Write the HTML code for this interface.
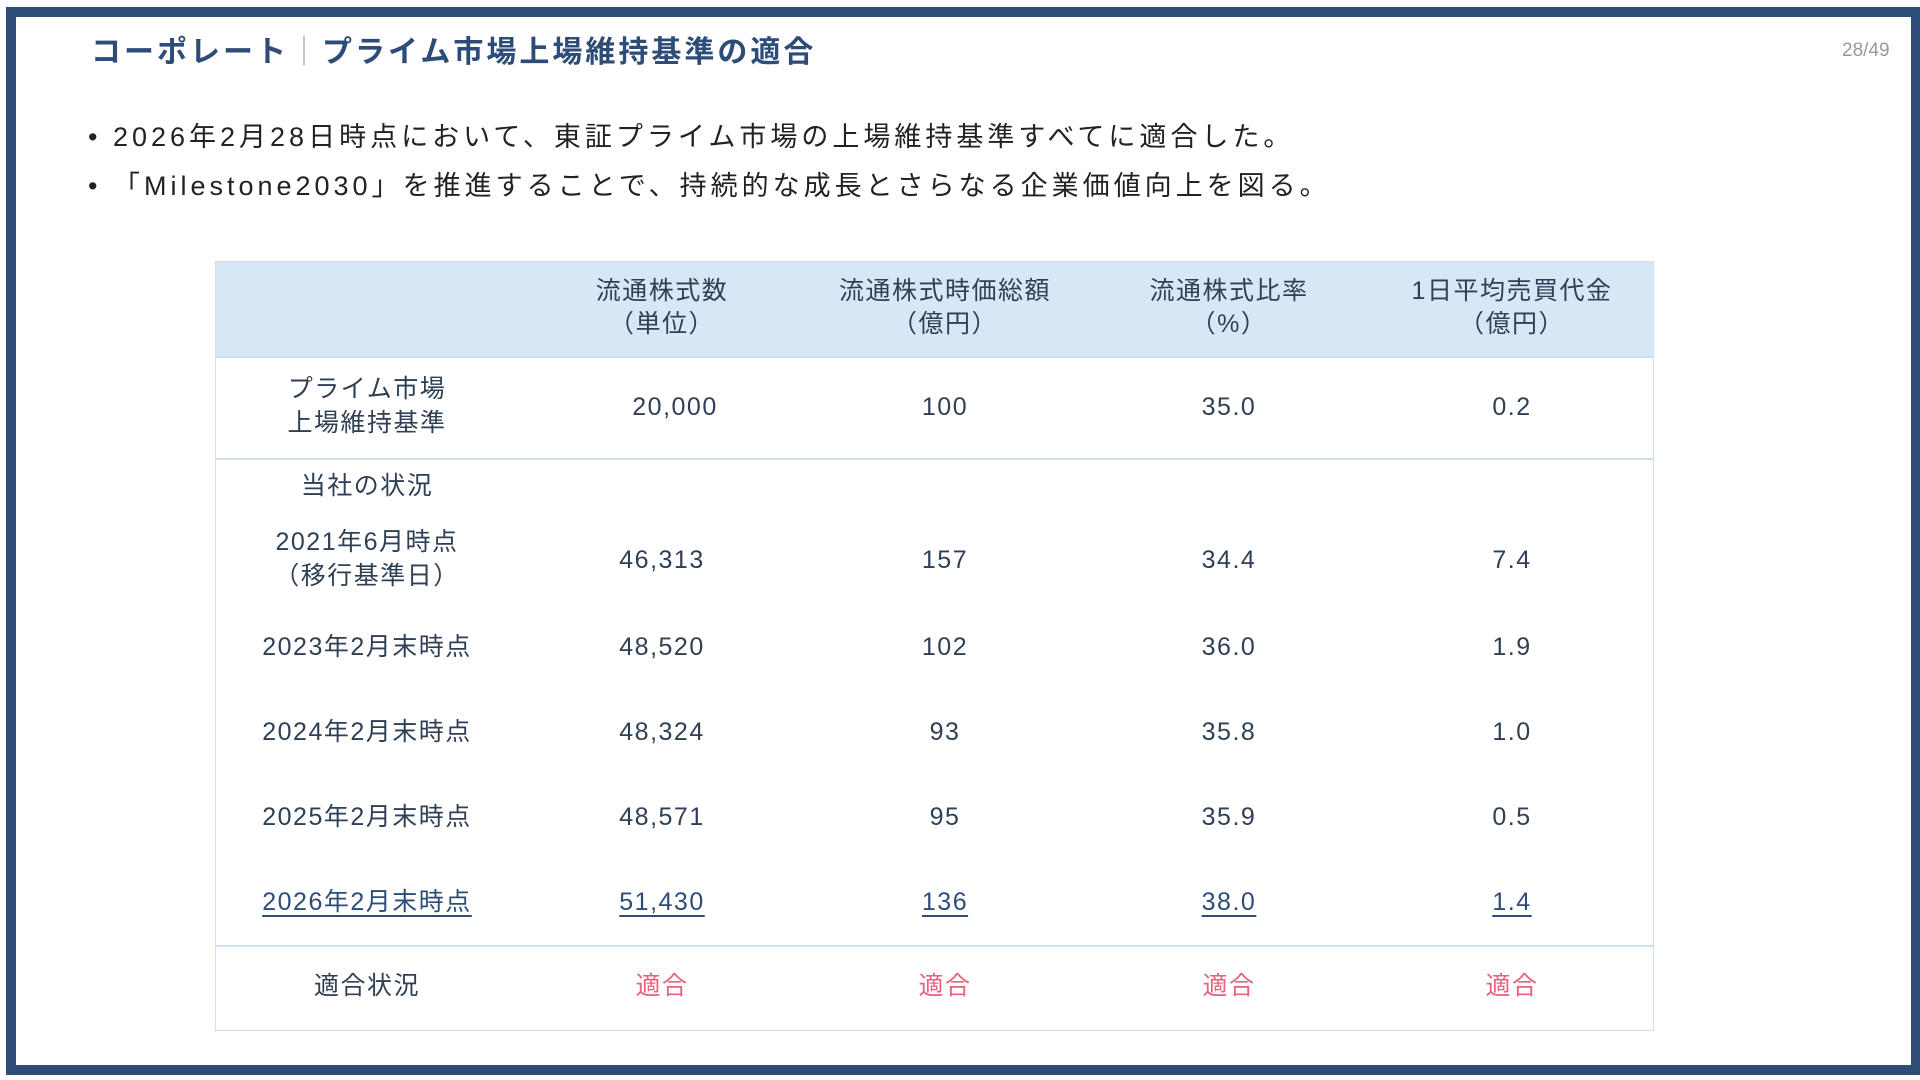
<!DOCTYPE html>
<html><head><meta charset="utf-8"><style>
body{margin:0;width:1920px;height:1080px;background:#fff;position:relative;overflow:hidden;font-family:"Liberation Sans","Noto Sans CJK JP",sans-serif;}
.frame{position:absolute;left:6px;top:7px;width:1895px;height:1048px;border:10px solid #2d4d78;box-sizing:content-box;}
.t{position:absolute;white-space:nowrap;}
.c{position:absolute;text-align:center;white-space:nowrap;line-height:34px;height:34px;font-size:25px;color:#2f3f55;letter-spacing:1.5px;}
.u{text-decoration:underline;text-underline-offset:5px;text-decoration-thickness:2px;color:#2d4d78;}
.ok{color:#e8627c;}
.hl{position:absolute;left:215px;width:1439px;height:2px;background:#cfe0f0;}
</style></head><body>
<div class="frame"></div>
<div class="t" style="left:91px;top:34px;font-size:30px;font-weight:bold;color:#2d4d78;line-height:38px;letter-spacing:3px;">コーポレート<span style="font-weight:normal;color:#9aa;">｜</span>プライム市場上場維持基準の適合</div>
<div class="t" style="left:1842px;top:40px;font-size:19px;color:#999;">28/49</div>
<div class="t" style="left:88px;top:120px;font-size:27px;color:#222;line-height:34px;letter-spacing:4px;">•&nbsp;2026年2月28日時点において、東証プライム市場の上場維持基準すべてに適合した。</div>
<div class="t" style="left:88px;top:169px;font-size:27px;color:#222;line-height:34px;letter-spacing:4px;">•&nbsp;「Milestone2030」を推進することで、持続的な成長とさらなる企業価値向上を図る。</div>

<div style="position:absolute;left:215px;top:261px;width:1437px;height:768px;border:1px solid #cfe0f0;"></div>
<div style="position:absolute;left:216px;top:262px;width:1437px;height:94px;background:#d7e7f6;"></div>
<div class="hl" style="top:356px"></div>
<div class="hl" style="top:458px"></div>
<div class="hl" style="top:945px"></div>

<div class="c" style="left:542px;width:240px;top:274px;">流通株式数</div>
<div class="c" style="left:542px;width:240px;top:307px;">（単位）</div>
<div class="c" style="left:805px;width:280px;top:274px;">流通株式時価総額</div>
<div class="c" style="left:805px;width:280px;top:307px;">（億円）</div>
<div class="c" style="left:1089px;width:280px;top:274px;">流通株式比率</div>
<div class="c" style="left:1089px;width:280px;top:307px;">（%）</div>
<div class="c" style="left:1372px;width:280px;top:274px;">1日平均売買代金</div>
<div class="c" style="left:1372px;width:280px;top:307px;">（億円）</div>

<div class="c" style="left:217px;width:300px;top:372px;">プライム市場</div>
<div class="c" style="left:217px;width:300px;top:406px;">上場維持基準</div>
<div class="c" style="left:217px;width:300px;top:469px;">当社の状況</div>
<div class="c" style="left:217px;width:300px;top:525px;">2021年6月時点</div>
<div class="c" style="left:217px;width:300px;top:559px;">（移行基準日）</div>
<div class="c" style="left:217px;width:300px;top:630px;">2023年2月末時点</div>
<div class="c" style="left:217px;width:300px;top:715px;">2024年2月末時点</div>
<div class="c" style="left:217px;width:300px;top:800px;">2025年2月末時点</div>
<div class="c" style="left:217px;width:300px;top:885px;"><span class="u">2026年2月末時点</span></div>
<div class="c" style="left:217px;width:300px;top:969px;">適合状況</div>

<div class="c" style="left:575px;width:200px;top:390px;">20,000</div>
<div class="c" style="left:845px;width:200px;top:390px;">100</div>
<div class="c" style="left:1129px;width:200px;top:390px;">35.0</div>
<div class="c" style="left:1412px;width:200px;top:390px;">0.2</div>

<div class="c" style="left:562px;width:200px;top:543px;">46,313</div>
<div class="c" style="left:845px;width:200px;top:543px;">157</div>
<div class="c" style="left:1129px;width:200px;top:543px;">34.4</div>
<div class="c" style="left:1412px;width:200px;top:543px;">7.4</div>

<div class="c" style="left:562px;width:200px;top:630px;">48,520</div>
<div class="c" style="left:845px;width:200px;top:630px;">102</div>
<div class="c" style="left:1129px;width:200px;top:630px;">36.0</div>
<div class="c" style="left:1412px;width:200px;top:630px;">1.9</div>

<div class="c" style="left:562px;width:200px;top:715px;">48,324</div>
<div class="c" style="left:845px;width:200px;top:715px;">93</div>
<div class="c" style="left:1129px;width:200px;top:715px;">35.8</div>
<div class="c" style="left:1412px;width:200px;top:715px;">1.0</div>

<div class="c" style="left:562px;width:200px;top:800px;">48,571</div>
<div class="c" style="left:845px;width:200px;top:800px;">95</div>
<div class="c" style="left:1129px;width:200px;top:800px;">35.9</div>
<div class="c" style="left:1412px;width:200px;top:800px;">0.5</div>

<div class="c" style="left:562px;width:200px;top:885px;"><span class="u">51,430</span></div>
<div class="c" style="left:845px;width:200px;top:885px;"><span class="u">136</span></div>
<div class="c" style="left:1129px;width:200px;top:885px;"><span class="u">38.0</span></div>
<div class="c" style="left:1412px;width:200px;top:885px;"><span class="u">1.4</span></div>

<div class="c ok" style="left:562px;width:200px;top:969px;">適合</div>
<div class="c ok" style="left:845px;width:200px;top:969px;">適合</div>
<div class="c ok" style="left:1129px;width:200px;top:969px;">適合</div>
<div class="c ok" style="left:1412px;width:200px;top:969px;">適合</div>
</body></html>
